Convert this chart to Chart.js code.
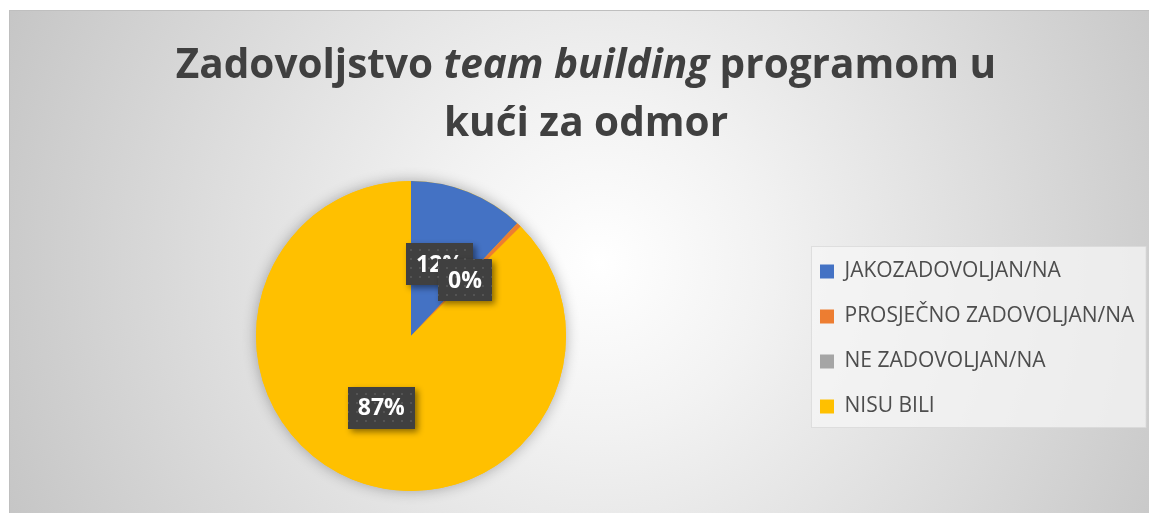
<!DOCTYPE html>
<html>
<head>
<meta charset="utf-8">
<script src="https://cdn.jsdelivr.net/npm/chart.js@4.4.1/dist/chart.umd.min.js"></script>
<style>
    html, body { margin: 0; padding: 0; background: #fff; overflow: hidden; }
    body { width: 1149px; height: 513px; position: relative; }
    #frame {
        position: absolute; left: 9px; top: 10px; width: 1146px; height: 510px;
        border: 1px solid #bfbfbf; box-sizing: border-box;
        background: radial-gradient(circle 660px at 590px 252px, #ffffff 0%, #f2f2f2 25%, #c4c4c4 100%);
    }
    #title {
        position: absolute; left: 6px; top: 23px; width: 1140px;
        text-align: center; color: #404040;
        font: bold 40.5px "Open Sans", sans-serif; line-height: 58px;
    }
    #salesPie { position: absolute; left: 0; top: 0; }
</style>
</head>
<body>
<div id="frame">
    <canvas id="salesPie" width="1140" height="503"></canvas>
    <div id="title">Zadovoljstvo <i>team building</i> programom u<br>kući za odmor</div>
</div>
<script>
const categories = ["JAKOZADOVOLJAN/NA", "PROSJEČNO ZADOVOLJAN/NA", "NE ZADOVOLJAN/NA", "NISU BILI"];
const shares = [12.02, 0.49, 0, 87.49];
const sliceColors = ["#4472C4", "#ED7D31", "#A5A5A5", "#FFC000"];

(() => {
    const canvas = document.getElementById("salesPie");
    if (!canvas || typeof Chart === "undefined") {
        return;
    }

    const total = shares.reduce((a, b) => a + b, 0);
    const legendLeft = 786;

    // dotted dark fill used behind the percentage labels
    const dots = document.createElement("canvas");
    dots.width = 9;
    dots.height = 9;
    const dctx = dots.getContext("2d");
    dctx.fillStyle = "#404040";
    dctx.fillRect(0, 0, 9, 9);
    dctx.fillStyle = "#545454";
    dctx.fillRect(4, 4, 2, 2);

    const legendSizer = {
        id: "legendSizer",
        beforeLayout(chart) {
            const legend = chart.legend;
            if (!legend || legend._sized) {
                return;
            }
            const fit = legend.fit;
            legend.fit = function () {
                fit.call(this);
                this.width = chart.width - legendLeft;
            };
            legend._sized = true;
        },
        afterLayout(chart) {
            // nudge the legend rows a little lower than the pie centre
            chart.legend.top += 3;
            chart.legend.bottom += 3;
        },
        beforeDraw(chart) {
            const { ctx, legend, chartArea } = chart;
            const midY = (chartArea.top + chartArea.bottom) / 2;
            ctx.save();
            ctx.fillStyle = "rgba(246,246,246,0.75)";
            ctx.strokeStyle = "rgba(218,218,218,0.8)";
            ctx.lineWidth = 1;
            const x = legend.left + 15.5;
            const y = Math.round(midY - 90) + 0.5;
            ctx.fillRect(x, y, legend.right - 4 - x, 181);
            ctx.strokeRect(x, y, legend.right - 4 - x, 181);
            ctx.restore();
        }
    };

    const pieShadow = {
        id: "pieShadow",
        beforeDatasetsDraw(chart) {
            const arc = chart.getDatasetMeta(0).data[0];
            if (!arc) {
                return;
            }
            const { ctx } = chart;
            ctx.save();
            ctx.shadowColor = "rgba(0,0,0,0.3)";
            ctx.shadowBlur = 14;
            ctx.fillStyle = sliceColors[3];
            ctx.beginPath();
            ctx.arc(arc.x, arc.y, arc.outerRadius, 0, Math.PI * 2);
            ctx.fill();
            ctx.restore();
        }
    };

    const valueBoxes = {
        id: "valueBoxes",
        afterDatasetsDraw(chart) {
            const { ctx } = chart;
            const pattern = ctx.createPattern(dots, "repeat");
            ctx.save();
            ctx.font = "bold 23px 'Open Sans', sans-serif";
            ctx.textAlign = "center";
            ctx.textBaseline = "middle";
            chart.getDatasetMeta(0).data.forEach((arc, i) => {
                if (!shares[i]) {
                    return;
                }
                const text = Math.round(shares[i] / total * 100) + "%";
                const { x, y } = arc.getCenterPoint();
                const w = ctx.measureText(text).width + 20;
                const h = 42;
                ctx.save();
                ctx.shadowColor = "rgba(0,0,0,0.45)";
                ctx.shadowBlur = 6;
                ctx.shadowOffsetX = 3;
                ctx.shadowOffsetY = 3;
                ctx.fillStyle = pattern;
                ctx.fillRect(Math.round(x - w / 2), Math.round(y - h / 2), Math.round(w), h);
                ctx.restore();
                ctx.fillStyle = "#ffffff";
                ctx.fillText(text, x, y + 1);
            });
            ctx.restore();
        }
    };

    // eslint-disable-next-line no-new
    new Chart(canvas, {
        type: "pie",
        data: {
            labels: categories,
            datasets: [{
                data: shares,
                backgroundColor: sliceColors,
                borderWidth: 0
            }]
        },
        options: {
            responsive: false,
            animation: false,
            devicePixelRatio: 1,
            layout: {
                padding: { top: 170, bottom: 23, left: 16, right: 0 }
            },
            plugins: {
                legend: {
                    position: "right",
                    align: "center",
                    labels: {
                        boxWidth: 14,
                        boxHeight: 14,
                        padding: 24,
                        color: "#4d4d4d",
                        font: { family: "'Open Sans', sans-serif", size: 21 }
                    }
                },
                tooltip: { enabled: false }
            },
            events: []
        },
        plugins: [legendSizer, pieShadow, valueBoxes]
    });
})();
</script>
</body>
</html>
